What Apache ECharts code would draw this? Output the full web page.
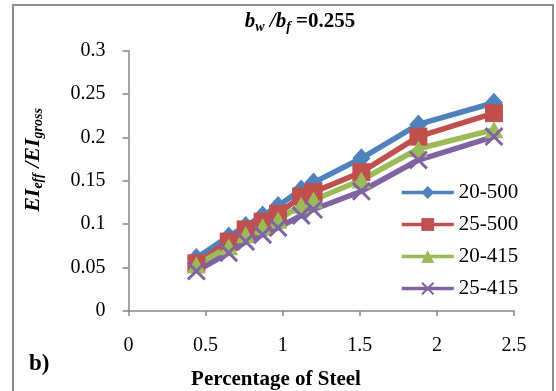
<!DOCTYPE html>
<html>
<head>
<meta charset="utf-8">
<script src="https://cdn.jsdelivr.net/npm/echarts@6/dist/echarts.min.js"></script>
<style>html,body{margin:0;padding:0;background:#fff}#c{width:556px;height:391px}</style>
</head>
<body>
<div id="c"></div>
<script>
const xSteel = [0.44, 0.65, 0.76, 0.87, 0.97, 1.12, 1.2, 1.51, 1.88, 2.37];
const s20_500 = [0.061, 0.086, 0.098, 0.110, 0.121, 0.140, 0.148, 0.176, 0.215, 0.240];
const s25_500 = [0.055, 0.080, 0.094, 0.103, 0.112, 0.132, 0.137, 0.160, 0.201, 0.228];
const s20_415 = [0.053, 0.074, 0.088, 0.097, 0.105, 0.122, 0.128, 0.151, 0.187, 0.209];
const s25_415 = [0.046, 0.067, 0.080, 0.088, 0.096, 0.110, 0.117, 0.138, 0.174, 0.201];
const seriesNames = ['20-500', '25-500', '20-415', '25-415'];
const xTicks = [0, 0.5, 1, 1.5, 2, 2.5];
const yTicks = [0, 0.05, 0.1, 0.15, 0.2, 0.25, 0.3];

const FONT = 'Liberation Serif';
const colors = ['#4F81BD', '#C0504D', '#9BBB59', '#8064A2'];
const symbols = ['diamond', 'rect', 'triangle',
  'path://M0,1.1L1.1,0L5,3.9L8.9,0L10,1.1L6.1,5L10,8.9L8.9,10L5,6.1L1.1,10L0,8.9L3.9,5Z'];
const sizes = [[18, 20], 18, [19, 17], 19];
const values = [s20_500, s25_500, s20_415, s25_415];

const chart = echarts.init(document.getElementById('c'), null, {renderer: 'canvas'});
const series = seriesNames.map((n, i) => ({
  name: n,
  type: 'line',
  data: xSteel.map((x, j) => [x, values[i][j]]),
  symbol: symbols[i],
  symbolSize: sizes[i],
  showAllSymbol: true,
  lineStyle: {color: colors[i], width: 5.5},
  itemStyle: {color: colors[i]},
  emphasis: {disabled: true},
  animation: false
}));

chart.setOption({
  animation: false,
  grid: {left: 128.5, right: 42, top: 50.7, bottom: 80, containLabel: false},
  xAxis: {
    type: 'value', min: 0, max: 2.5, interval: 0.5,
    axisLine: {show: true, lineStyle: {color: '#868686', width: 1.5}},
    axisTick: {show: true, inside: false, length: 5, lineStyle: {color: '#868686', width: 1.5}},
    axisLabel: {margin: 25, fontFamily: FONT, fontSize: 20, color: '#000',
      formatter: v => { const t = xTicks.find(k => Math.abs(k - v) < 1e-9); return t === undefined ? '' : String(t); }},
    splitLine: {show: false}
  },
  yAxis: {
    type: 'value', min: 0, max: 0.3, interval: 0.05,
    axisLine: {show: true, lineStyle: {color: '#868686', width: 1.5}},
    axisTick: {show: true, inside: false, length: 6, lineStyle: {color: '#868686', width: 1.5}},
    axisLabel: {margin: 23, fontFamily: FONT, fontSize: 20, color: '#000',
      formatter: v => { const t = yTicks.find(k => Math.abs(k - v) < 1e-9); return t === undefined ? '' : String(t); }},
    splitLine: {show: false}
  },
  legend: {
    orient: 'vertical', left: 400, top: 182, padding: 0,
    itemWidth: 52, itemHeight: 16, itemGap: 11,
    data: seriesNames,
    textStyle: {fontFamily: FONT, fontSize: 21, color: '#000'},
    lineStyle: {width: 3.5},
    selectedMode: false
  },
  series: series,
  graphic: [
    {type: 'rect', shape: {x: 13, y: 5, width: 540, height: 400}, style: {fill: 'none', stroke: '#8c8c8c', lineWidth: 2}, silent: true, z: -1},
    {type: 'text', x: 300, y: 22, silent: true,
      style: {text: '{bi|b}{sub|w}{bi| /b}{sub|f}{b| =0.255}', align: 'center', verticalAlign: 'middle',
        rich: {
          bi: {fontFamily: FONT, fontSize: 21, fontWeight: 'bold', fontStyle: 'italic', fill: '#000'},
          sub: {fontFamily: FONT, fontSize: 14, fontWeight: 'bold', fontStyle: 'italic', fill: '#000', padding: [11, 0, 0, 0]},
          b: {fontFamily: FONT, fontSize: 21, fontWeight: 'bold', fill: '#000'}
        }}},
    {type: 'text', x: 33, y: 160, rotation: Math.PI / 2, silent: true,
      style: {text: '{bi|EI}{sub|eff}{bi| /EI}{sub|gross}', align: 'center', verticalAlign: 'middle',
        rich: {
          bi: {fontFamily: FONT, fontSize: 22, fontWeight: 'bold', fontStyle: 'italic', fill: '#000'},
          sub: {fontFamily: FONT, fontSize: 14, fontWeight: 'bold', fontStyle: 'italic', fill: '#000', padding: [10, 0, 0, 0]}
        }}},
    {type: 'text', x: 276, y: 380, silent: true,
      style: {text: 'Percentage of Steel', fontFamily: FONT, fontSize: 21, fontWeight: 'bold', fill: '#000', align: 'center', verticalAlign: 'middle'}},
    {type: 'text', x: 29, y: 364, silent: true,
      style: {text: 'b)', fontFamily: FONT, fontSize: 23, fontWeight: 'bold', fill: '#000', align: 'left', verticalAlign: 'middle'}}
  ]
});
</script>
</body>
</html>
